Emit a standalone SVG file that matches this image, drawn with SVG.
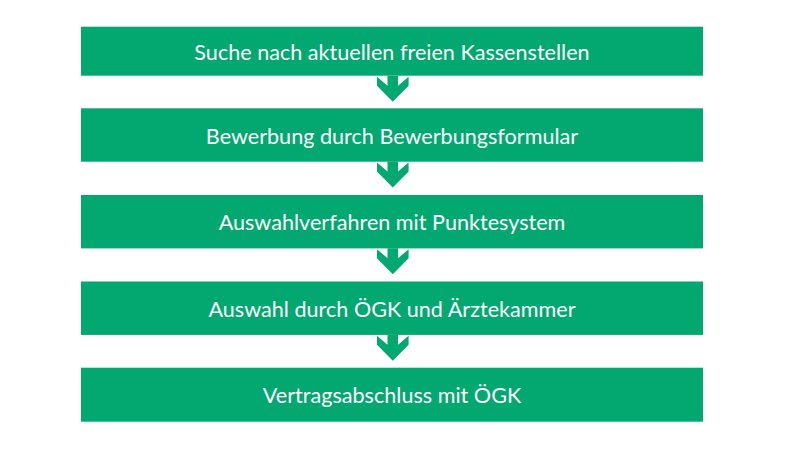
<svg xmlns="http://www.w3.org/2000/svg" width="800" height="449" viewBox="0 0 800 449">
<defs>
<style>
.box{fill:#02A870;}
.lbl{fill:#ffffff;font-family:Lato,"Open Sans","Liberation Sans",sans-serif;font-size:21.6px;text-anchor:middle;dominant-baseline:central;}
.arr{fill:#02A870;}
</style>
<path id="ar" d="M-5.3,0 H5.3 V10 L15.8,1 V10 L0,26 L-15.8,10 V1 L-5.3,10 Z"/>
</defs>
<rect width="800" height="449" fill="#ffffff"/>
<g id="n1"><rect class="box" x="81" y="26.7" width="622" height="49"/><text class="lbl" x="392" y="52">Suche nach aktuellen freien Kassenstellen</text></g>
<g id="n2"><rect class="box" x="81" y="108.3" width="622" height="53.4"/><text class="lbl" x="392" y="135.5">Bewerbung durch Bewerbungsformular</text></g>
<g id="n3"><rect class="box" x="81" y="195" width="622" height="53.4"/><text class="lbl" x="392" y="222">Auswahlverfahren mit Punktesystem</text></g>
<g id="n4"><rect class="box" x="81" y="281.5" width="622" height="53.4"/><text class="lbl" x="392" y="308.5">Auswahl durch ÖGK und Ärztekammer</text></g>
<g id="n5"><rect class="box" x="81" y="367.7" width="622" height="54"/><text class="lbl" x="392" y="395">Vertragsabschluss mit ÖGK</text></g>
<g id="connectors">
<use href="#ar" class="arr" transform="translate(392.8,75.7)"/>
<use href="#ar" class="arr" transform="translate(392.8,161.5)"/>
<use href="#ar" class="arr" transform="translate(392.8,248.2)"/>
<use href="#ar" class="arr" transform="translate(392.8,334.7)"/>
</g>
</svg>
